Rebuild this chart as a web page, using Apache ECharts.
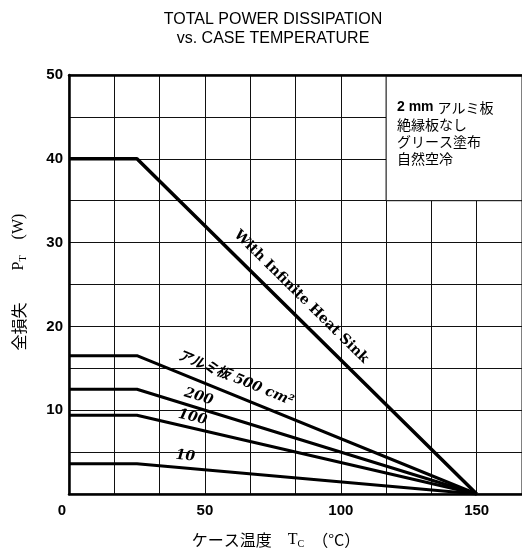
<!DOCTYPE html>
<html>
<head>
<meta charset="utf-8">
<script src="https://cdn.jsdelivr.net/npm/echarts@6/dist/echarts.min.js"></script>
<style>
  html, body { margin: 0; padding: 0; background: #fff; }
  #chart { width: 522px; height: 551px; }
</style>
</head>
<body>
<div id="chart"></div>
<script>
// Case temperature break points (°C) shared by every derating curve
const caseTemp = [0, 25, 150];
// Allowed dissipation (W) at those temperatures
const infiniteSink = [40, 40, 0];
const alu500 = [16.5, 16.5, 0];
const alu200 = [12.5, 12.5, 0];
const alu100 = [9.4, 9.4, 0];
const alu10 = [3.6, 3.6, 0];

// Tick labels
const xTickLabels = [0, 50, 100, 150];
const yTickLabels = [10, 20, 30, 40, 50];

// Curve captions
const curveNames = ['With Infinite Heat Sink', 'アルミ板 500 cm²', '200', '100', '10'];
// Mounting conditions note
const conditions = ['2 mm アルミ板', '絶縁板なし', 'グリース塗布', '自然空冷'];

const curves = [infiniteSink, alu500, alu200, alu100, alu10];
const X_MAX = 500 / 3;
const X_STEP = 50 / 3;

const chart = echarts.init(document.getElementById('chart'), null, { renderer: 'canvas' });

function pairs(values) {
  return caseTemp.map((t, i) => [t, values[i]]);
}

const isTick = (v, list) => list.some(t => Math.abs(v - t) < 1e-6);

const baseFont = '"Liberation Sans", Arial, sans-serif';

const option = {
  animation: false,
  backgroundColor: '#fff',
  title: {
    text: 'TOTAL POWER DISSIPATION\nvs. CASE TEMPERATURE',
    left: 273,
    top: 10,
    padding: 0,
    textAlign: 'center',
    textStyle: {
      fontFamily: baseFont,
      fontSize: 16,
      fontWeight: 'normal',
      color: '#000',
      lineHeight: 19
    }
  },
  grid: {
    left: 69,
    top: 75,
    width: 453,
    height: 419,
    show: true,
    borderColor: '#000',
    borderWidth: 1
  },
  xAxis: [
    {
      type: 'value',
      min: 0,
      max: X_MAX,
      interval: X_STEP,
      position: 'bottom',
      axisLine: { show: true, onZero: false, lineStyle: { color: '#000', width: 2.5 } },
      axisTick: { show: false },
      splitLine: { show: true, lineStyle: { color: '#111', width: 1 } },
      axisLabel: {
        margin: 9,
        showMaxLabel: false,
        color: '#000',
        fontFamily: baseFont,
        fontSize: 15,
        fontWeight: 'bold',
        formatter: v => {
          if (!isTick(v, xTickLabels)) return '';
          const r = Math.round(v);
          return r === 0 ? '{zero|0}' : String(r);
        },
        rich: {
          zero: {
            padding: [0, 14, 0, 0],
            fontFamily: baseFont,
            fontSize: 15,
            fontWeight: 'bold',
            color: '#000'
          }
        }
      }
    },
    {
      type: 'value',
      min: 0,
      max: X_MAX,
      position: 'top',
      axisLine: { show: true, onZero: false, lineStyle: { color: '#000', width: 2.5 } },
      axisTick: { show: false },
      axisLabel: { show: false },
      splitLine: { show: false }
    }
  ],
  yAxis: {
    type: 'value',
    min: 0,
    max: 50,
    interval: 5,
    axisLine: { show: true, onZero: false, lineStyle: { color: '#000', width: 2.5 } },
    axisTick: { show: false },
    splitLine: { show: true, lineStyle: { color: '#111', width: 1 } },
    axisLabel: {
      margin: 6,
      color: '#000',
      fontFamily: baseFont,
      fontSize: 15,
      fontWeight: 'bold',
      formatter: v => (isTick(v, yTickLabels) ? String(Math.round(v)) : '')
    }
  },
  series: curves.map((vals, i) => ({
    name: curveNames[i],
    type: 'line',
    data: pairs(vals),
    symbol: 'none',
    silent: true,
    z: 3,
    lineStyle: { color: '#000', width: i === 0 ? 3.5 : 3 }
  })).concat([{
    // white note box in the upper right corner of the grid
    name: 'note',
    type: 'line',
    data: [],
    silent: true,
    z: 2,
    markArea: {
      silent: true,
      itemStyle: { color: '#fff', borderColor: '#000', borderWidth: 1 },
      data: [[{ coord: [350 / 3, 49.85] }, { coord: [X_MAX, 35] }]]
    }
  }])
};

chart.setOption(option);

// Curve captions placed along each line: [series index, x position on curve, offset above line (px), font]
const captionSpecs = [
  [0, 81, 17, 'bold 14px "DejaVu Serif", serif'],
  [1, 59, 16, 'italic bold 14px "DejaVu Serif", "Noto Sans CJK JP", serif'],
  [2, 46.5, 11, 'italic bold 14px "DejaVu Serif", serif'],
  [3, 44.6, 10.5, 'italic bold 14px "DejaVu Serif", serif'],
  [4, 42.4, 12, 'italic bold 14px "DejaVu Serif", serif']
];

function curveY(vals, x) {
  for (let i = 0; i < caseTemp.length - 1; i++) {
    const x0 = caseTemp[i], x1 = caseTemp[i + 1];
    if (x >= x0 && x <= x1) {
      return vals[i] + (vals[i + 1] - vals[i]) * (x - x0) / (x1 - x0);
    }
  }
  return vals[vals.length - 1];
}

const graphics = captionSpecs.map(([idx, x, off, font]) => {
  const vals = curves[idx];
  const p = chart.convertToPixel({ gridIndex: 0 }, [x, curveY(vals, x)]);
  const a = chart.convertToPixel({ gridIndex: 0 }, [25, vals[1]]);
  const b = chart.convertToPixel({ gridIndex: 0 }, [150, vals[2]]);
  const dx = b[0] - a[0], dy = b[1] - a[1];
  const len = Math.hypot(dx, dy);
  const nx = dy / len, ny = -dx / len;
  return {
    type: 'text',
    x: p[0] + nx * off,
    y: p[1] + ny * off,
    rotation: -Math.atan2(dy, dx),
    silent: true,
    z: 10,
    style: {
      text: curveNames[idx],
      font: font,
      fill: '#000',
      align: 'center',
      verticalAlign: 'middle'
    }
  };
});

// Mounting conditions inside the white box
graphics.push({
  type: 'text',
  x: 397,
  y: 99,
  silent: true,
  z: 10,
  style: {
    text: '{b|2 mm }' + conditions[0].replace('2 mm ', '') + '\n' + conditions.slice(1).join('\n'),
    font: '14px "Noto Sans CJK JP", sans-serif',
    fill: '#000',
    lineHeight: 17,
    rich: {
      b: { font: 'bold 14px "Liberation Sans", Arial, sans-serif', fill: '#000' }
    }
  }
});

// Axis titles with subscripts
graphics.push({
  type: 'text',
  x: 19,
  y: 282,
  rotation: Math.PI / 2,
  silent: true,
  z: 10,
  style: {
    text: '全損失　　{m|P}{s|T}　{m|(W)}',
    font: '16px "Noto Sans CJK JP", sans-serif',
    fill: '#000',
    align: 'center',
    verticalAlign: 'middle',
    rich: {
      m: { font: '16px "Liberation Serif", serif', fill: '#000' },
      s: { font: '10px "Liberation Serif", serif', fill: '#000', padding: [8, 0, 0, 0] }
    }
  }
});

graphics.push({
  type: 'text',
  x: 276,
  y: 540,
  silent: true,
  z: 10,
  style: {
    text: 'ケース温度　{m|T}{s|C}　（°C）',
    font: '16px "Noto Sans CJK JP", sans-serif',
    fill: '#000',
    align: 'center',
    verticalAlign: 'middle',
    rich: {
      m: { font: '16px "Liberation Serif", serif', fill: '#000' },
      s: { font: '10px "Liberation Serif", serif', fill: '#000', padding: [8, 0, 0, 0] }
    }
  }
});

chart.setOption({ graphic: graphics });
</script>
</body>
</html>
